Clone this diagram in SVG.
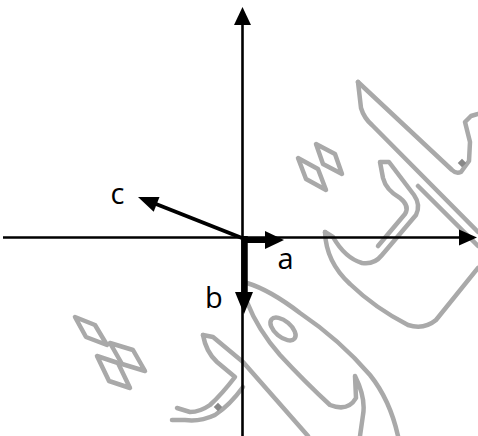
<svg xmlns="http://www.w3.org/2000/svg" width="478" height="436" viewBox="0 0 478 436">
<style>
.wm{fill:none;stroke:#a9a9a9;stroke-width:4.5;stroke-linejoin:round;stroke-linecap:round}
.ax{stroke:#000;stroke-width:2.6;fill:none}
.vec{stroke:#000;fill:none}
.head{fill:#000;stroke:none}
.lbl{font-family:"Open Sans","Liberation Sans",sans-serif;font-size:29px;fill:#000}
</style>
<rect width="478" height="436" fill="#fff"/>
<g id="watermark">
  <path class="wm" d="M358,82 L452,170 Q456,174 461,172 L469,161 L470,142 L465,122 L471,116 L478,114"/>
  <path class="wm" d="M358,82 L361,108 Q364,118 372,125 L478,232"/>
  <path class="wm" d="M418,186 L478,246"/>
  <path class="wm" d="M325,232 Q326,262 350,284 Q375,308 408,325 Q424,330 436,320 L478,268"/>
  <path class="wm" d="M325,232 L333,237 Q345,258 362,263 Q374,265 382,255 L416,215 Q421,205 414,195 L389,162 L380,162 L383,178 Q386,190 400,198 Q410,206 405,214 L378,246"/>
  <polygon class="wm" points="316,144 335,154 342,174 323,164"/>
  <polygon class="wm" points="298,158 318,169 326,190 306,179"/>
  <polygon class="wm" points="75,317 95,325 107,345 86,337"/>
  <polygon class="wm" points="110,343 133,350 145,371 122,364"/>
  <polygon class="wm" points="97,356 118,363 130,388 109,381"/>
  <path class="wm" d="M203,335 L213,337 L243,362 L308,436"/>
  <path class="wm" d="M203,335 Q206,352 217,362 L235,377 Q222,394 210,405 Q200,412 190,412 L177,408"/>
  <path class="wm" d="M243,387 Q230,405 215,415 Q200,422 185,420 L172,420"/>
  <path class="wm" d="M247,283 Q270,290 300,313 Q340,340 370,375 Q390,400 398,436"/>
  <path class="wm" d="M247,302 Q258,330 280,355 Q305,382 330,405 Q348,412 356,398 L355,376 Q366,398 363,415 L360,436"/>
  <ellipse class="wm" cx="283" cy="329" rx="15" ry="8" transform="rotate(40 283 329)"/>
  <rect x="459" y="160" width="6" height="6" fill="#888" transform="rotate(45 462 163)"/>
  <rect x="215" y="404" width="6" height="6" fill="#888" transform="rotate(45 218 407)"/>
</g>
<g id="connectors">
  <g id="x-axis">
    <line class="ax" x1="3" y1="237.5" x2="462" y2="237.5"/>
    <polygon class="head" points="477,237.5 459,229.5 459,245.5"/>
  </g>
  <g id="y-axis">
    <line class="ax" x1="242.5" y1="436" x2="242.5" y2="22"/>
    <polygon class="head" points="242.5,7 234,25 251,25"/>
  </g>
</g>
<g id="vector-a">
  <line class="vec" stroke-width="6" x1="242" y1="240" x2="268" y2="240"/>
  <polygon class="head" points="284,240 265,231 265,249"/>
  <text class="lbl" x="277.5" y="269">a</text>
</g>
<g id="vector-b">
  <line class="vec" stroke-width="6.5" x1="244.5" y1="236" x2="244.5" y2="296"/>
  <polygon class="head" points="244,314 235,292 253,292"/>
  <text class="lbl" x="205" y="308">b</text>
</g>
<g id="vector-c">
  <line class="vec" stroke-width="4" x1="242" y1="238" x2="156" y2="204"/>
  <polygon class="head" points="138,197 159.5,196.9 153.7,211.7"/>
  <text class="lbl" x="110.5" y="203.5">c</text>
</g>
</svg>
